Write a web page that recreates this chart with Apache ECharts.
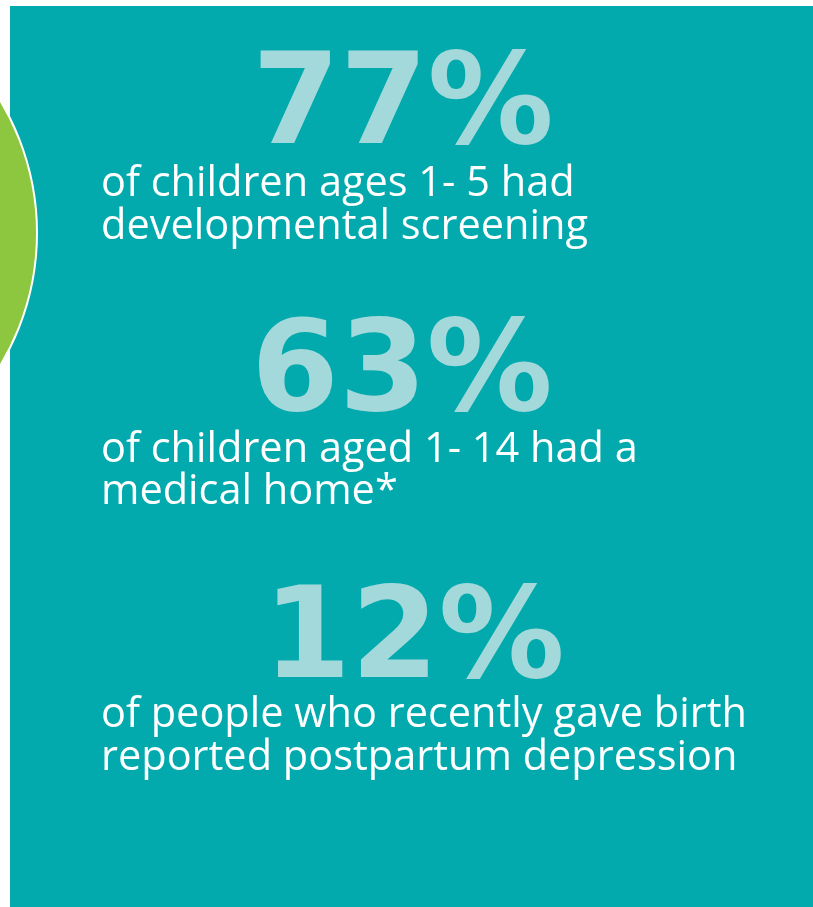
<!DOCTYPE html>
<html>
<head>
<meta charset="utf-8">
<style>
html,body{margin:0;padding:0;background:#ffffff;}
#chart{width:813px;height:907px;}
</style>
<script src="https://cdn.jsdelivr.net/npm/echarts@6/dist/echarts.min.js"></script>
</head>
<body>
<div id="chart"></div>
<script>
// Data
var statValues = [77, 63, 12];
var statUnit = '%';
var captionLine1 = ['of children ages 1- 5 had', 'of children aged 1- 14 had a', 'of people who recently gave birth'];
var captionLine2 = ['developmental screening', 'medical home*', 'reported postpartum depression'];

var chart = echarts.init(document.getElementById('chart'), null, {renderer: 'canvas'});

var TEAL = '#02aaae';
var NUM_COLOR = '#a3d9da';
var GREEN = '#8dc63f';

var elements = [];
elements.push({
  type: 'rect', z: 0,
  shape: {x: 10, y: 6, width: 803, height: 901},
  style: {fill: TEAL}
});
elements.push({
  type: 'circle', z: 1,
  shape: {cx: -220, cy: 233, r: 257},
  style: {fill: GREEN, stroke: '#ffffff', lineWidth: 2}
});

var numCenters = [403, 402, 414];
statValues.forEach(function (v, i) {
  var cy = 97.5 + i * 267;
  elements.push({
    type: 'text', z: 2,
    style: {
      text: v + statUnit,
      x: numCenters[i], y: cy + 12.5,
      align: 'center', verticalAlign: 'middle',
      fill: NUM_COLOR,
      font: 'bold 126px "DejaVu Sans"'
    }
  });
  var xc1 = 184.5 + i * 265.5;
  elements.push({
    type: 'text', z: 2,
    style: {
      text: captionLine1[i],
      x: 101, y: xc1,
      align: 'left', verticalAlign: 'middle',
      fill: '#ffffff',
      font: '41.5px "Open Sans"'
    }
  });
  elements.push({
    type: 'text', z: 2,
    style: {
      text: captionLine2[i],
      x: 101, y: xc1 + 42.5,
      align: 'left', verticalAlign: 'middle',
      fill: '#ffffff',
      font: '41.5px "Open Sans"'
    }
  });
});

chart.setOption({
  backgroundColor: '#ffffff',
  animation: false,
  graphic: {elements: elements}
});
</script>
</body>
</html>
